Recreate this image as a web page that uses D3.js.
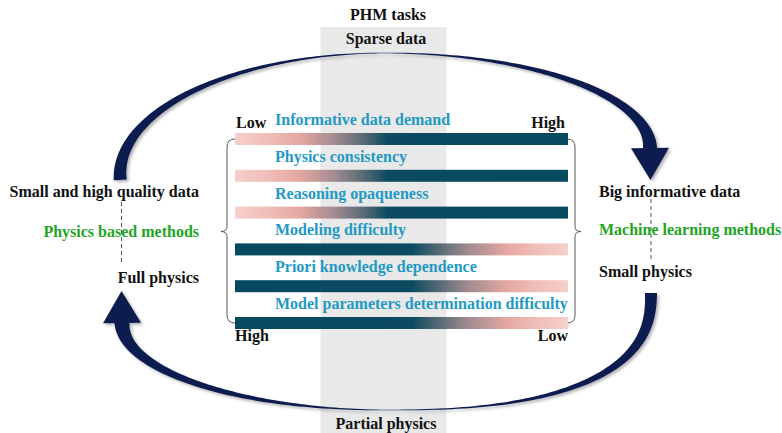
<!DOCTYPE html>
<html>
<head>
<meta charset="utf-8">
<script src="https://cdn.jsdelivr.net/npm/d3@7"></script>
<style>
  html, body { margin: 0; padding: 0; background: #fff; }
</style>
</head>
<body>
<div id="chart"></div>
<script>
/* ---------- data ---------- */
const factors = [
  'Informative data demand',
  'Physics consistency',
  'Reasoning opaqueness',
  'Modeling difficulty',
  'Priori knowledge dependence',
  'Model parameters determination difficulty'
];
// 'up' = low on the left, high on the right; 'down' = the reverse
const trend = ['up', 'up', 'up', 'down', 'down', 'down'];
const topEnds = ['Low', 'High'];
const bottomEnds = ['High', 'Low'];

const leftNotes = ['Small and high quality data', 'Physics based methods', 'Full physics'];
const rightNotes = ['Big informative data', 'Machine learning methods', 'Small physics'];
const noteKind = ['data', 'method', 'physics'];

const bandTitle = 'PHM tasks';
const bandTop = 'Sparse data';
const bandBottom = 'Partial physics';

/* ---------- setup ---------- */
const W = 782, H = 433;
const BLUE = '#2399c4', GREEN = '#1fa524', NAVY = '#0b1a50', INK = '#111';
const FONT = "'Liberation Serif', 'Times New Roman', Times, 'DejaVu Serif', serif";

const svg = d3.select('#chart').append('svg')
  .attr('width', W).attr('height', H)
  .attr('font-family', FONT).attr('font-weight', 'bold');

const x = d3.scaleLinear().domain([0, 1]).range([235, 568]);
const y = d3.scalePoint().domain(factors).range([133, 317]);
const barH = 12;

const defs = svg.append('defs');

const shadow = defs.append('filter').attr('id', 'shade')
  .attr('x', '-10%').attr('y', '-10%').attr('width', '130%').attr('height', '130%');
shadow.append('feDropShadow')
  .attr('dx', 2).attr('dy', 2).attr('stdDeviation', 1.6)
  .attr('flood-color', '#000').attr('flood-opacity', 0.3);

// gradient stops per trend
const stops = {
  up: [[0, '#f6d0cc'], [0.1, '#efbdb8'], [0.19, '#e6a8a2'], [0.3, '#a28b90'],
       [0.38, '#5d6d78'], [0.46, '#0b4a60'], [1, '#064a60']],
  down: [[0, '#064a60'], [0.53, '#0b4a60'], [0.62, '#5d6d78'], [0.7, '#a28b90'],
         [0.82, '#e6a8a2'], [0.9, '#efbdb8'], [1, '#f6d0cc']]
};
Object.entries(stops).forEach(([k, s]) => {
  const g = defs.append('linearGradient').attr('id', 'grad-' + k)
    .attr('x1', '0%').attr('x2', '100%').attr('y1', '0%').attr('y2', '0%');
  s.forEach(([o, c]) => g.append('stop').attr('offset', o).attr('stop-color', c));
});

/* ---------- grey task band ---------- */
svg.append('rect')
  .attr('x', 320.5).attr('y', 27).attr('width', 126).attr('height', H - 27)
  .attr('fill', '#e9e9e9');

/* ---------- tapered arcs ---------- */
// segment: centre, radii, angle range, exponent (1 = plain ellipse)
function segPoint(s, a, off) {
  const c = Math.cos(a), sn = Math.sin(a);
  const px = Math.sign(c) * Math.pow(Math.abs(c), s.e);
  const py = Math.sign(sn) * Math.pow(Math.abs(sn), s.e);
  return [s.cx + (s.rx + off) * px, s.cy + (s.ry + off) * py];
}

function taperedArc(segs, wStart, wMid, wEnd, head) {
  const n = 80, p = 1.3;
  const outer = [], inner = [];
  segs.forEach((s, i) => {
    d3.range(n + 1).forEach(k => {
      const t = k / n;
      const a = s.a0 + (s.a1 - s.a0) * t;
      const w = i === 0
        ? wMid + (wStart - wMid) * Math.pow(1 - t, p)
        : wMid + (wEnd - wMid) * Math.pow(t, p);
      outer.push(segPoint(s, a, w / 2));
      inner.push(segPoint(s, a, -w / 2));
    });
  });
  const poly = outer.concat(inner.reverse());
  const g = svg.append('g').attr('filter', 'url(#shade)');
  g.append('path').attr('d', d3.line()(poly) + 'Z').attr('fill', NAVY);

  // arrow head at the end of the last segment
  const s = segs[segs.length - 1];
  const e = segPoint(s, s.a1, 0), b = segPoint(s, s.a1 - 0.01, 0);
  let dx = e[0] - b[0], dy = e[1] - b[1];
  const L = Math.hypot(dx, dy); dx /= L; dy /= L;
  const nx = -dy, ny = dx;
  const tri = [
    [e[0] + nx * head.half, e[1] + ny * head.half],
    [e[0] + dx * head.len, e[1] + dy * head.len],
    [e[0] - nx * head.half, e[1] - ny * head.half]
  ];
  g.append('path').attr('d', d3.line()(tri) + 'Z').attr('fill', NAVY);
}

// upper arc: left (data side) over the top to the right
taperedArc([
  { cx: 385, cy: 175, rx: 265, ry: 122, a0: Math.PI - 0.04, a1: 1.5 * Math.PI, e: 1 },
  { cx: 385, cy: 148, rx: 265, ry: 95, a0: 1.5 * Math.PI, a1: 2 * Math.PI, e: 1 }
], 13, 0.6, 14, { half: 19, len: 32 });

// lower arc: right under the bottom back to the left
taperedArc([
  { cx: 386, cy: 293, rx: 265, ry: 117, a0: 0, a1: 0.5 * Math.PI, e: 0.8 },
  { cx: 386, cy: 323, rx: 264, ry: 87, a0: 0.5 * Math.PI, a1: Math.PI, e: 1 }
], 12, 0.6, 15, { half: 19, len: 32 });

/* ---------- braces ---------- */
const bTop = 139, bBot = 323, bMid = 231.5;
function brace(xv, dir) {
  // dir = -1 for left brace (tip points left), +1 for right
  const xi = xv - dir * 8, xt = xv + dir * 6;
  return `M${xi},${bTop} Q${xv},${bTop} ${xv},${bTop + 8} L${xv},${bMid - 5} ` +
    `Q${xv},${bMid} ${xt},${bMid} Q${xv},${bMid} ${xv},${bMid + 5} ` +
    `L${xv},${bBot - 8} Q${xv},${bBot} ${xi},${bBot}`;
}
svg.append('path').attr('d', brace(227, -1))
  .attr('fill', 'none').attr('stroke', '#555').attr('stroke-width', 1);
svg.append('path').attr('d', brace(575, 1))
  .attr('fill', 'none').attr('stroke', '#555').attr('stroke-width', 1);

/* ---------- bars ---------- */
svg.selectAll('rect.bar').data(factors).join('rect')
  .attr('class', 'bar')
  .attr('x', x(0)).attr('width', x(1) - x(0))
  .attr('y', d => y(d)).attr('height', barH)
  .attr('fill', (d, i) => `url(#grad-${trend[i]})`);

svg.selectAll('text.factor').data(factors).join('text')
  .attr('class', 'factor')
  .attr('x', 275).attr('y', d => y(d) - 8)
  .attr('font-size', 16).attr('fill', BLUE)
  .text(d => d);

/* ---------- low / high ends ---------- */
svg.append('text').attr('x', x(0) + 1).attr('y', 128).attr('font-size', 16).attr('fill', INK)
  .text(topEnds[0]);
svg.append('text').attr('x', x(1) - 3).attr('y', 128).attr('text-anchor', 'end')
  .attr('font-size', 16).attr('fill', INK).text(topEnds[1]);
svg.append('text').attr('x', x(0)).attr('y', 341).attr('font-size', 16).attr('fill', INK)
  .text(bottomEnds[0]);
svg.append('text').attr('x', x(1)).attr('y', 341).attr('text-anchor', 'end')
  .attr('font-size', 16).attr('fill', INK).text(bottomEnds[1]);

/* ---------- side notes ---------- */
svg.append('line').attr('x1', 121.5).attr('x2', 121.5).attr('y1', 202).attr('y2', 265)
  .attr('stroke', '#555').attr('stroke-dasharray', '4,3');
svg.append('line').attr('x1', 651).attr('x2', 651).attr('y1', 199).attr('y2', 262)
  .attr('stroke', '#555').attr('stroke-dasharray', '4,3');

const leftY = [197, 237, 283], rightY = [197, 235, 277];
leftNotes.forEach((t, i) => {
  svg.append('text').attr('x', 199).attr('y', leftY[i]).attr('text-anchor', 'end')
    .attr('font-size', 16).attr('fill', noteKind[i] === 'method' ? GREEN : INK).text(t);
});
rightNotes.forEach((t, i) => {
  svg.append('text').attr('x', 599).attr('y', rightY[i])
    .attr('font-size', 16).attr('fill', noteKind[i] === 'method' ? GREEN : INK).text(t);
});

/* ---------- band captions ---------- */
svg.append('text').attr('x', 388).attr('y', 20).attr('text-anchor', 'middle')
  .attr('font-size', 16).attr('fill', INK).text(bandTitle);
svg.append('text').attr('x', 386).attr('y', 44).attr('text-anchor', 'middle')
  .attr('font-size', 16).attr('fill', INK).text(bandTop);
svg.append('text').attr('x', 386).attr('y', 429).attr('text-anchor', 'middle')
  .attr('font-size', 16).attr('fill', INK).text(bandBottom);
</script>
</body>
</html>
